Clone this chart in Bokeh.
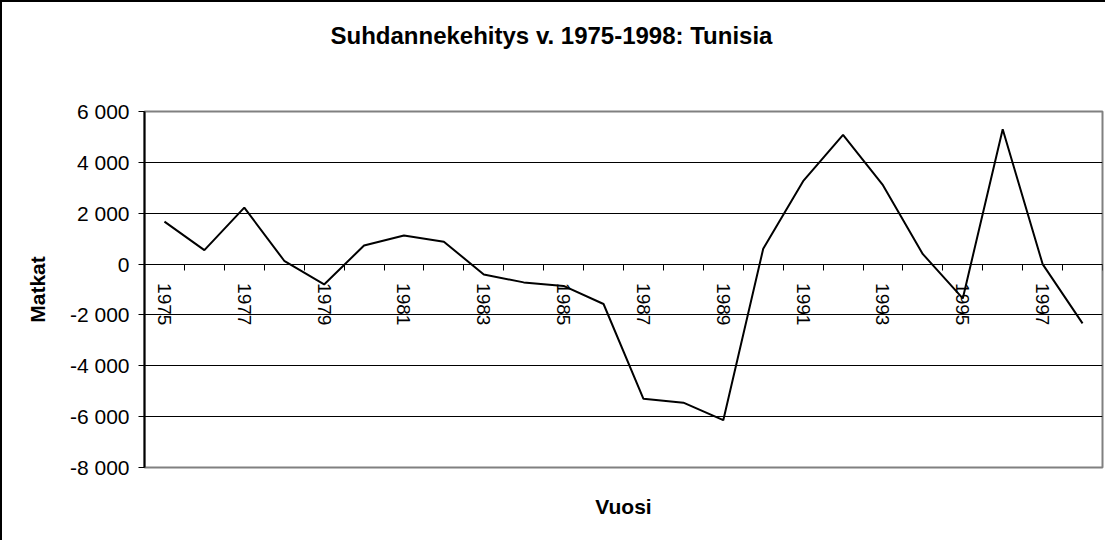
import math
from bokeh.plotting import figure
from bokeh.models import Range1d, LinearAxis, FixedTicker, Title
from bokeh.embed import file_html
from bokeh.resources import INLINE

# ---- data ----
years = list(range(1975, 1999))
values = [1670, 550, 2220, 130, -800, 730, 1120, 880, -410, -720, -860, -1570,
          -5300, -5450, -6140, 600, 3260, 5080, 3100, 390, -1350, 5300, 0, -2330]
label_years = years[::2]
year_labels = [str(y) for y in label_years]
ytick_values = [-8000, -6000, -4000, -2000, 0, 2000, 4000, 6000]
ytick_labels = ["-8 000", "-6 000", "-4 000", "-2 000", "0", "2 000", "4 000", "6 000"]

title_text = "Suhdannekehitys v. 1975-1998: Tunisia"
x_title = "Vuosi"
y_title = "Matkat"

FONT = "Liberation Sans"

p = figure(width=1105, height=540, output_backend="svg", toolbar_location=None,
           x_range=Range1d(years[0] - 0.5, years[-1] + 0.5),
           y_range=Range1d(ytick_values[0], ytick_values[-1]),
           min_border_left=142, min_border_right=5,
           min_border_top=109, min_border_bottom=75)
xa = p.below[0]
ya = p.left[0]

p.styles = {"border-left": "2px solid #000000", "border-top": "2px solid #000000"}
p.background_fill_color = "white"
p.border_fill_color = "white"
p.outline_line_color = "#808080"
p.outline_line_width = 2
p.title.visible = False

# grid
p.xgrid.visible = False
p.ygrid.ticker = FixedTicker(ticks=ytick_values[1:-1])
p.ygrid.grid_line_color = "black"
p.ygrid.grid_line_width = 1

# y axis
ya.ticker = FixedTicker(ticks=ytick_values)
ya.major_label_overrides = dict(zip(ytick_values, ytick_labels))
ya.major_label_text_font = FONT
ya.major_label_text_font_size = "21px"
ya.major_label_text_color = "black"
ya.major_label_standoff = 9
ya.major_tick_out = 6
ya.major_tick_in = 0
ya.major_tick_line_color = "black"
ya.minor_tick_line_color = None
ya.axis_line_color = "black"
ya.axis_line_width = 2
ya.axis_label = y_title
ya.axis_label_text_font = FONT
ya.axis_label_text_font_size = "21px"
ya.axis_label_text_font_style = "bold"
ya.axis_label_text_color = "black"
ya.axis_label_standoff = 18

# bottom axis: only carries the axis title
xa.ticker = FixedTicker(ticks=[])
xa.axis_line_color = None
xa.major_tick_out = 0
xa.major_tick_in = 0
xa.minor_tick_line_color = None
xa.major_label_standoff = 0
xa.axis_label = x_title
xa.axis_label_text_font = FONT
xa.axis_label_text_font_size = "21px"
xa.axis_label_text_font_style = "bold"
xa.axis_label_text_color = "black"
xa.axis_label_standoff = 27

# x axis line at zero with category boundary ticks
boundaries = [y - 0.5 for y in years] + [years[-1] + 0.5]
ax_ticks = LinearAxis(fixed_location=0, ticker=FixedTicker(ticks=boundaries),
                      major_label_text_color=None, major_tick_out=6, major_tick_in=0,
                      major_tick_line_color="black", minor_tick_line_color=None,
                      axis_line_color="black", axis_line_width=1)
p.add_layout(ax_ticks, "below")

# year labels
ax_labels = LinearAxis(fixed_location=0, ticker=FixedTicker(ticks=label_years),
                       major_label_overrides=dict(zip(label_years, year_labels)),
                       major_label_orientation=-math.pi / 2,
                       major_label_standoff=19,
                       major_label_text_font=FONT, major_label_text_font_size="19px",
                       major_label_text_color="black",
                       major_tick_out=0, major_tick_in=0, minor_tick_line_color=None,
                       axis_line_color=None)
p.add_layout(ax_labels, "below")

# invisible spacer between plot area and chart title
spacer = LinearAxis(ticker=FixedTicker(ticks=[years[0]]),
                    major_label_overrides={years[0]: ""},
                    major_label_text_font_size="0px", major_label_text_color=None,
                    major_label_standoff=0,
                    axis_line_color=None, major_tick_out=63, major_tick_in=0,
                    major_tick_line_color=None, minor_tick_line_color=None)
p.add_layout(spacer, "above")

# chart title
p.add_layout(Title(text=title_text, align="left", offset=186, standoff=0,
                   vertical_align="bottom", text_font=FONT, text_font_size="24px",
                   text_font_style="bold", text_color="black"), "above")

# series
p.line(years, values, line_color="black", line_width=2)

open("out.html", "w").write(file_html(p, INLINE))
